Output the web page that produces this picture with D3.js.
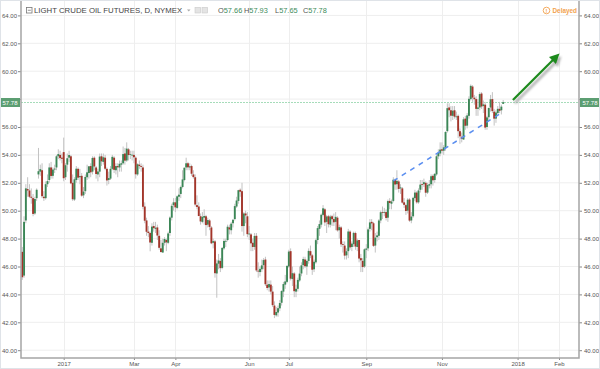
<!DOCTYPE html>
<html>
<head>
<meta charset="utf-8">
<script src="https://cdn.jsdelivr.net/npm/d3@7"></script>
<style>
  body { margin: 0; background: #fff; }
  svg { display: block; font-family: "Liberation Sans", Arial, sans-serif; }
</style>
</head>
<body>
<div class="chart-box"></div>
<script>
let width = 600, height = 369;

// first bar and exchange holidays (bars are placed by trading-day index)
let startDate = "2016-11-29";
let holidays = ["2016-12-26", "2017-01-02", "2017-01-16", "2017-02-20", "2017-04-14",
  "2017-05-29", "2017-07-04", "2017-09-04", "2017-11-23"];

let opens = [
  // Nov 29 - Dec 30 2016
  47.05,45.35,49.30,51.55,51.45,51.00,50.90,49.80,50.90,52.60,52.80,52.90,51.00,50.90,51.90,52.20,53.10,52.50,52.95,53.10,53.90,54.00,53.80,
  // Jan
  54.20,52.40,53.30,53.80,53.90,52.00,50.80,52.20,53.00,52.40,52.50,51.10,51.40,52.40,52.70,53.20,52.80,53.80,53.10,52.60,
  // Feb
  52.80,53.90,53.50,53.80,53.00,52.20,52.30,53.00,53.80,52.90,53.20,53.10,53.30,53.40,54.10,53.60,54.40,54.00,54.00,
  // Mar
  54.00,53.80,52.60,53.30,53.20,53.10,50.30,49.30,48.50,48.40,47.70,48.90,48.70,48.80,48.20,47.30,47.00,47.70,47.90,47.70,48.40,49.50,50.40,
  // Apr
  50.60,50.20,51.00,51.20,51.70,52.20,53.10,53.40,53.10,53.20,52.60,52.40,50.40,50.30,49.60,49.20,49.50,49.60,49.00,
  // May
  49.30,48.80,47.70,47.80,45.50,46.20,46.40,45.90,47.30,47.80,47.90,48.80,48.60,49.10,49.40,50.30,50.70,51.50,51.40,48.90,49.80,49.60,
  // Jun
  48.30,48.30,47.70,47.40,48.20,45.70,45.60,45.80,46.10,46.50,44.70,44.50,44.70,44.20,43.20,42.50,42.70,43.00,43.40,44.20,44.70,44.90,
  // Jul
  46.00,47.10,45.10,45.50,44.20,44.40,45.00,45.50,46.10,46.50,46.00,46.40,47.10,46.80,45.80,46.30,47.90,48.70,49.00,49.70,
  // Aug
  50.10,49.20,49.60,49.00,49.60,49.40,49.20,49.50,48.60,48.80,47.60,47.50,46.80,47.10,48.50,47.40,47.60,48.40,47.40,47.90,46.60,46.40,46.00,
  // Sep
  47.20,47.30,48.70,49.20,49.10,47.50,48.10,48.20,49.30,49.90,49.90,49.90,49.50,50.70,50.50,50.70,52.20,51.90,52.10,51.60,
  // Oct
  51.60,50.60,50.40,50.00,50.80,49.30,49.60,50.90,51.30,50.60,51.50,51.90,51.90,52.00,51.30,51.80,51.90,52.50,52.20,52.60,53.90,54.10,
  // Nov
  54.40,54.30,54.50,55.70,57.40,57.20,56.80,57.20,56.70,56.80,55.70,55.30,55.10,56.60,56.10,56.80,58.00,58.90,58.10,58.00,57.30,
  // Dec
  57.40,58.40,57.50,57.60,56.00,56.70,57.40,58.00,57.10,56.60,57.00,57.30,57.20,57.66
];
let highs = [
  47.40,49.60,51.90,52.40,51.90,51.60,51.20,51.00,51.60,54.50,53.30,53.40,51.40,52.10,52.60,53.40,53.50,53.10,53.30,54.00,54.40,54.30,54.10,
  55.24,53.40,54.10,54.30,54.00,52.60,52.40,53.20,53.10,53.00,52.70,51.70,52.60,53.30,53.20,53.40,53.90,53.90,53.20,53.00,
  54.10,54.10,54.10,54.00,53.10,52.80,53.20,54.00,53.90,53.40,53.40,53.60,53.60,54.60,54.50,54.90,54.50,54.30,54.30,
  54.30,53.90,53.40,53.60,53.40,53.30,50.60,49.50,48.90,48.50,49.10,49.20,49.20,49.00,48.60,47.90,48.00,48.10,48.00,48.50,49.60,50.50,50.90,
  50.90,51.10,51.60,51.80,52.90,53.10,53.80,53.50,53.40,53.30,52.90,52.60,51.10,50.60,49.80,49.90,50.10,49.70,49.50,
  49.40,48.90,48.00,47.90,46.50,46.90,46.60,47.40,48.00,48.00,49.00,49.00,49.20,49.40,50.50,51.00,51.50,51.60,52.00,49.90,50.00,49.90,
  48.90,48.40,48.00,48.40,48.40,46.30,46.00,46.50,46.60,46.70,45.00,45.00,45.00,44.60,43.50,43.10,43.20,43.60,44.30,44.90,45.40,46.10,
  47.20,47.30,46.00,45.60,44.70,45.20,46.00,46.30,46.70,46.70,46.50,47.30,47.50,46.90,46.50,48.00,48.90,49.30,49.80,50.40,
  50.20,49.70,49.70,49.70,49.70,49.80,49.90,49.60,49.00,48.90,47.80,47.80,47.30,48.70,48.60,47.80,48.50,48.50,48.00,47.90,46.90,46.60,47.30,
  47.60,48.80,49.40,49.40,49.20,48.40,48.50,49.40,50.00,50.30,50.20,50.10,50.80,50.90,50.80,52.40,52.30,52.90,52.20,51.90,
  51.70,50.90,50.50,50.90,50.90,49.90,51.00,51.50,51.40,51.60,52.20,52.20,52.30,52.10,52.00,52.20,52.60,52.60,52.70,54.00,54.40,54.90,
  54.90,54.70,55.70,57.70,57.70,57.50,57.50,57.50,57.10,56.90,55.90,55.60,56.70,56.80,57.00,58.20,59.05,59.00,58.30,58.20,58.00,
  58.50,58.50,57.90,57.80,56.80,57.40,58.30,58.50,57.30,57.20,57.50,57.80,57.60,57.93
];
let lows = [
  45.04,45.20,49.10,51.00,50.90,50.50,49.60,49.70,50.70,52.30,52.50,50.90,50.70,50.80,51.70,52.00,52.30,52.30,52.70,52.90,53.70,53.60,53.40,
  52.11,52.20,52.80,53.50,51.90,50.70,50.70,52.00,52.20,51.90,51.00,50.90,51.20,52.20,52.30,52.40,52.60,52.90,52.30,52.10,
  52.40,53.20,53.30,52.90,51.80,51.90,52.20,52.90,52.70,52.60,52.40,52.80,52.80,53.30,53.30,53.50,53.60,53.70,53.60,
  53.40,52.30,52.50,53.00,52.80,50.10,49.10,48.20,48.10,47.09,47.50,48.50,48.40,47.90,47.20,47.00,47.00,47.50,47.10,47.60,48.20,49.30,50.00,
  49.90,50.10,50.70,50.90,51.60,52.10,52.90,52.90,52.90,52.50,52.30,50.30,50.10,49.60,49.00,49.10,49.00,48.20,48.80,
  48.60,47.60,47.30,45.20,43.76,45.80,45.60,45.80,47.20,47.40,47.80,48.30,48.30,48.80,49.30,50.20,50.50,51.00,48.50,48.20,49.10,48.10,
  47.90,47.10,47.10,47.20,45.60,45.20,45.30,45.60,45.80,44.60,44.30,44.20,44.00,43.10,42.30,42.40,42.40,42.80,43.20,43.80,44.40,44.80,
  45.90,45.00,44.60,43.80,43.80,44.20,44.90,45.30,45.80,45.90,45.40,46.20,46.60,45.40,45.60,46.20,47.60,48.20,48.80,49.60,
  48.90,48.40,48.80,48.80,48.90,48.90,48.60,48.50,48.00,47.40,47.00,46.50,46.50,46.60,47.20,47.10,47.40,47.20,47.10,46.30,45.60,45.60,45.90,
  46.60,47.10,48.50,48.60,47.40,47.00,47.80,47.90,49.10,49.40,49.60,49.30,49.20,50.10,50.10,50.60,51.50,51.50,51.30,51.20,
  50.50,50.20,49.70,49.80,49.20,49.10,49.50,50.70,50.50,50.50,51.30,51.50,51.70,51.00,51.20,51.60,51.60,51.80,52.00,52.50,53.70,53.90,
  54.10,54.00,54.30,55.60,56.70,56.40,56.50,56.60,56.50,55.20,54.80,54.90,55.10,55.80,55.90,56.60,57.90,57.80,57.60,56.80,56.80,
  57.20,57.30,57.00,55.80,55.80,56.40,57.10,57.00,56.10,56.30,56.90,57.00,56.90,57.65
];
let closes = [
  45.23,49.20,51.60,51.45,51.00,50.93,49.77,50.84,51.50,52.83,52.98,51.04,50.90,51.90,52.12,53.10,52.49,52.95,53.02,53.90,54.06,53.77,53.72,
  52.33,53.26,53.76,53.99,51.96,50.82,52.25,53.01,52.37,52.48,51.08,51.37,52.42,52.75,53.18,52.75,53.78,53.17,52.63,52.81,
  53.88,53.54,53.83,53.01,52.17,52.34,53.00,53.86,52.93,53.20,53.11,53.36,53.40,54.06,53.59,54.45,53.99,54.05,54.01,
  53.83,52.61,53.33,53.20,53.14,50.28,49.28,48.49,48.40,47.72,48.86,48.75,48.78,48.22,47.34,47.04,47.70,47.97,47.73,48.37,49.51,50.35,50.60,
  50.24,51.03,51.15,51.70,52.24,53.08,53.40,53.11,53.18,52.65,52.41,50.44,50.27,49.62,49.23,49.56,49.62,48.97,49.33,
  48.84,47.66,47.82,45.52,46.22,46.43,45.88,47.33,47.83,47.84,48.85,48.66,49.07,49.35,50.33,50.73,51.47,51.36,48.90,49.80,49.66,48.32,
  48.36,47.66,47.40,48.19,45.72,45.64,45.83,46.08,46.46,44.73,44.46,44.74,44.20,43.23,42.53,42.74,43.01,43.38,44.24,44.74,44.93,46.04,
  47.07,45.13,45.52,44.23,44.40,45.04,45.49,46.08,46.54,46.02,46.40,47.12,46.79,45.77,46.34,47.89,48.75,49.04,49.71,50.17,
  49.16,49.59,49.03,49.58,49.39,49.17,49.56,48.59,48.82,47.59,47.55,46.78,47.09,48.51,47.37,47.64,48.41,47.43,47.87,46.57,46.44,45.96,47.23,
  47.29,48.66,49.16,49.09,47.48,48.07,48.23,49.30,49.89,49.89,49.91,49.48,50.69,50.55,50.66,52.22,51.88,52.14,51.56,51.67,
  50.58,50.42,49.98,50.79,49.29,49.58,50.92,51.30,50.60,51.45,51.87,51.88,52.04,51.29,51.84,51.90,52.47,52.18,52.64,53.90,54.15,54.38,
  54.30,54.54,55.64,57.35,57.20,56.81,57.17,56.74,56.76,55.70,55.33,55.14,56.55,56.09,56.83,58.02,58.95,58.11,57.99,57.30,57.40,
  58.36,57.47,57.62,55.96,56.69,57.36,57.99,57.14,56.60,57.04,57.30,57.16,57.46,57.78
];

let priceTicks = d3.range(40, 64.01, 2);
let tickMonths = ["2017-01", "2017-03", "2017-04", "2017-06", "2017-07", "2017-09", "2017-11", "2018-01", "2018-02"];
let quoteLabels = ["O", "H", "L", "C"];
let quoteValues = [57.66, 57.93, 57.65, 57.78];
let lastPrice = 57.78;
// drawings: [bar index, price]
let trendLine = [[206, 52.13], [265, 56.93]];
let arrowLine = [[272.4, 57.94], [296.3, 61.02]];

// trading calendar: weekdays minus holidays for the data, plain weekdays after it
let parse = d3.timeParse("%Y-%m-%d"), fmt = d3.timeFormat("%Y-%m-%d");
let dates = [];
let day = parse(startDate);
while (dates.length < 312) {
  let wd = day.getDay();
  let isHoliday = dates.length < closes.length && holidays.includes(fmt(day));
  if (wd > 0 && wd < 6 && !isHoliday) dates.push(day);
  day = d3.timeDay.offset(day, 1);
}
let bars = closes.map((c, i) => ({ i: i, o: opens[i], h: highs[i], l: lows[i], c: c }));

let left = 21, right = 579, bottom = 358;
let x = d3.scaleLinear().domain([-0.7, 309.1]).range([left, right]);
let y = d3.scaleLinear().domain([40, 64]).range([350.2, 15.4]);

let svg = d3.select(".chart-box")
  .append("svg")
  .attr("width", width)
  .attr("height", height);

svg.append("rect").attr("width", width).attr("height", height).attr("fill", "#fff");

let defs = svg.append("defs");
defs.append("filter").attr("id", "blur")
  .append("feGaussianBlur").attr("stdDeviation", 1.2);
defs.append("marker")
  .attr("id", "head").attr("viewBox", "0 0 10 10")
  .attr("refX", 5).attr("refY", 5)
  .attr("markerUnits", "userSpaceOnUse")
  .attr("markerWidth", 10).attr("markerHeight", 10)
  .attr("orient", "auto")
  .append("path").attr("d", "M0,0L10,5L0,10z").attr("fill", "#1d8a1d");
defs.append("marker")
  .attr("id", "headShadow").attr("viewBox", "0 0 10 10")
  .attr("refX", 5).attr("refY", 5)
  .attr("markerUnits", "userSpaceOnUse")
  .attr("markerWidth", 10).attr("markerHeight", 10)
  .attr("orient", "auto")
  .append("path").attr("d", "M0,0L10,5L0,10z").attr("fill", "#9a9a9a");

// tick indices: first slot of each month in the list
let tickIdx = tickMonths.map(m => dates.findIndex(d => d3.timeFormat("%Y-%m")(d) === m));
let tickText = i => dates[i].getMonth() === 0 ? d3.timeFormat("%Y")(dates[i]) : d3.timeFormat("%b")(dates[i]);

// grid
svg.append("g").selectAll("line")
  .data(priceTicks).enter().append("line")
  .attr("x1", left).attr("x2", right)
  .attr("y1", d => y(d)).attr("y2", d => y(d))
  .attr("stroke", "#eeeeee");
svg.append("g").selectAll("line")
  .data(tickIdx).enter().append("line")
  .attr("x1", d => Math.round(x(d)) + 0.5).attr("x2", d => Math.round(x(d)) + 0.5)
  .attr("y1", 0).attr("y2", bottom)
  .attr("stroke", "#eeeeee");

// last price line
let lastY = Math.round(y(lastPrice)) + 0.5;
svg.append("line")
  .attr("x1", left).attr("x2", right)
  .attr("y1", lastY).attr("y2", lastY)
  .attr("stroke", "#a6dcba").attr("stroke-width", 1)
  .attr("stroke-dasharray", "2,1");

// candles
let candles = svg.append("g");
candles.selectAll("line")
  .data(bars).enter().append("line")
  .attr("x1", d => x(d.i)).attr("x2", d => x(d.i))
  .attr("y1", d => y(d.h)).attr("y2", d => y(d.l))
  .attr("stroke", "#c2c2c2").attr("stroke-width", 1);
candles.selectAll("rect")
  .data(bars).enter().append("rect")
  .attr("x", d => x(d.i) - 0.95)
  .attr("width", 1.9)
  .attr("y", d => y(Math.max(d.o, d.c)))
  .attr("height", d => Math.max(0.8, Math.abs(y(d.o) - y(d.c))))
  .attr("fill", d => d.c >= d.o ? "#3b8656" : "#a3352a");

// trend line
svg.append("line")
  .attr("x1", x(trendLine[0][0])).attr("y1", y(trendLine[0][1]))
  .attr("x2", x(trendLine[1][0])).attr("y2", y(trendLine[1][1]))
  .attr("stroke", "#5b8ff0").attr("stroke-width", 1.5)
  .attr("stroke-dasharray", "5,5");

// arrow with shadow
svg.append("line")
  .attr("x1", x(arrowLine[0][0]) + 2).attr("y1", y(arrowLine[0][1]) + 3)
  .attr("x2", x(arrowLine[1][0]) + 2).attr("y2", y(arrowLine[1][1]) + 3)
  .attr("stroke", "#9a9a9a").attr("stroke-width", 3).attr("opacity", 0.7)
  .attr("filter", "url(#blur)")
  .attr("marker-end", "url(#headShadow)");
svg.append("line")
  .attr("x1", x(arrowLine[0][0])).attr("y1", y(arrowLine[0][1]))
  .attr("x2", x(arrowLine[1][0])).attr("y2", y(arrowLine[1][1]))
  .attr("stroke", "#1d8a1d").attr("stroke-width", 2.2)
  .attr("marker-end", "url(#head)");

// axes
let styleAxis = g => {
  g.select(".domain").remove();
  g.selectAll(".tick line").attr("stroke", "#888");
  g.selectAll(".tick text").attr("fill", "#555").attr("font-size", "6px")
    .attr("font-family", "Liberation Sans, Arial, sans-serif");
};
svg.append("g")
  .attr("transform", `translate(${right},0)`)
  .call(d3.axisRight(y).tickValues(priceTicks).tickFormat(d3.format(".2f")).tickSize(3).tickPadding(2))
  .call(styleAxis);
svg.append("g")
  .attr("transform", `translate(${left},0)`)
  .call(d3.axisLeft(y).tickValues(priceTicks).tickFormat(d3.format(".2f")).tickSize(3).tickPadding(1))
  .call(styleAxis);
svg.append("g")
  .attr("transform", `translate(0,${bottom})`)
  .call(d3.axisBottom(x).tickValues(tickIdx).tickFormat(tickText).tickSize(2).tickPadding(2))
  .call(styleAxis);

// frame
svg.append("path")
  .attr("d", `M${left},0V${bottom}H${right}V0`)
  .attr("fill", "none").attr("stroke", "#a5a5a5").attr("stroke-width", 1.5);

// last price labels (drawn over the axis text, as on the source chart)
[[0, left - 1], [right + 1, width]].forEach(([x0, x1]) => {
  svg.append("rect")
    .attr("x", x0).attr("y", lastY - 4.5)
    .attr("width", x1 - x0).attr("height", 9)
    .attr("fill", "#5c9e72");
  svg.append("text")
    .attr("x", (x0 + x1) / 2).attr("y", lastY + 2.2)
    .attr("text-anchor", "middle").attr("font-size", "6px")
    .attr("fill", "#fff").text(d3.format(".2f")(lastPrice));
});

// header
let head = svg.append("g").attr("font-size", "7.8px");
head.append("rect").attr("x", 26.5).attr("y", 7.5).attr("width", 5.5).attr("height", 5.5)
  .attr("fill", "none").attr("stroke", "#777").attr("stroke-width", 0.8);
head.append("line").attr("x1", 27.8).attr("x2", 30.8).attr("y1", 10.25).attr("y2", 10.25)
  .attr("stroke", "#777").attr("stroke-width", 0.8);
head.append("text").attr("x", 34).attr("y", 13.4).attr("fill", "#444")
  .text("LIGHT CRUDE OIL FUTURES, D, NYMEX");
head.append("path").attr("d", "M187,9.5h3.5l-1.75,2z").attr("fill", "#aaa");
[195, 202].forEach(x0 => {
  head.append("rect").attr("x", x0).attr("y", 7.5).attr("width", 5.5).attr("height", 5.5)
    .attr("fill", "#e4e4e4").attr("stroke", "#c9c9c9").attr("stroke-width", 0.6);
});
let quoteX = [218, 244, 275, 303];
quoteLabels.forEach((lab, k) => {
  let t = head.append("text").attr("x", quoteX[k]).attr("y", 13.4).attr("font-size", "7.4px");
  t.append("tspan").attr("fill", "#555").text(lab);
  t.append("tspan").attr("fill", "#3d8b5b").text(d3.format(".2f")(quoteValues[k]));
});

// delayed badge
svg.append("circle").attr("cx", 546.5).attr("cy", 10.5).attr("r", 3.3)
  .attr("fill", "none").attr("stroke", "#f2a24e").attr("stroke-width", 0.9);
svg.append("text").attr("x", 546.5).attr("y", 12.6).attr("text-anchor", "middle")
  .attr("font-size", "5.5px").attr("font-weight", "bold").attr("fill", "#f2a24e").text("!");
svg.append("text").attr("x", 552.5).attr("y", 12.7)
  .attr("font-size", "6.4px").attr("font-weight", "bold").attr("fill", "#f2a24e").text("Delayed");

// outer border
svg.append("rect").attr("x", 0.5).attr("y", 0.5).attr("width", width - 1).attr("height", height - 1)
  .attr("fill", "none").attr("stroke", "#dfe3e8");
</script>
</body>
</html>
